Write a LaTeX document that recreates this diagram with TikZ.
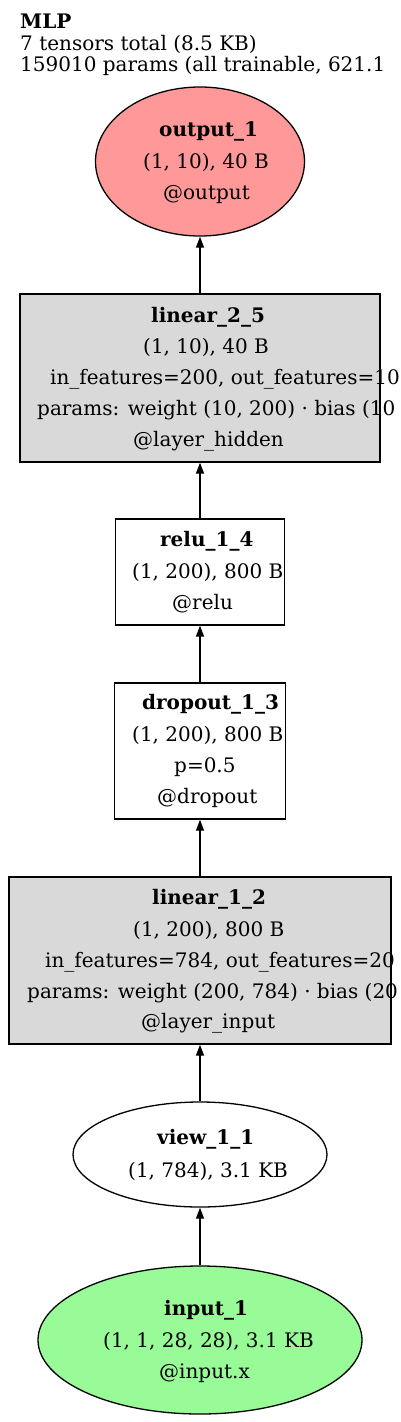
\documentclass[tikz,border=0pt]{standalone}
\usepackage{fontspec}
\setmainfont{DejaVu Serif}
\usetikzlibrary{arrows.meta,shapes.geometric}
\definecolor{outputCol}{RGB}{255, 153, 153}
\definecolor{inputCol}{RGB}{152, 251, 152}
\definecolor{layerCol}{RGB}{217, 217, 217}
\definecolor{edgeCol}{RGB}{0, 0, 0}

\begin{document}
\begin{tikzpicture}[
    x=1pt, y=-1pt,
    font=\fontsize{20}{24}\selectfont,
    tensorEllipse/.style={ellipse, draw=edgeCol, line width=1.3pt, inner sep=0pt},
    opBox/.style={rectangle, draw=edgeCol, line width=1.3pt, inner sep=0pt},
    lineText/.style={anchor=base west, inner sep=0pt},
    flowArrow/.style={-{Triangle[length=11pt, width=8pt]}, line width=1.3pt, draw=edgeCol}
]

    % ---------------- page ----------------
    \clip (0,0) rectangle (400,1422);
    \fill[white] (0,0) rectangle (400,1422);

    % ---------------- title ----------------
    \node[lineText, font=\fontsize{20}{24}\selectfont\bfseries] (title) at (20,28) {MLP};
    \node[lineText] (tensorCount) at (20,50) {7 tensors total (8.5 KB)};
    \node[lineText] (paramCount) at (20,71) {159010 params (all trainable, 621.1};

    % ---------------- shapes (top to bottom) ----------------
    \node[tensorEllipse, fill=outputCol, minimum width=209pt, minimum height=149pt]
        (output) at (200,161.5) {};
    \node[opBox, fill=layerCol, minimum width=360pt, minimum height=168pt]
        (linear2) at (200,378) {};
    \node[opBox, fill=white, minimum width=169pt, minimum height=106pt]
        (relu) at (200,572) {};
    \node[opBox, fill=white, minimum width=171pt, minimum height=136pt]
        (dropout) at (200,751) {};
    \node[opBox, fill=layerCol, minimum width=382pt, minimum height=167pt]
        (linear1) at (200,960.5) {};
    \node[tensorEllipse, fill=white, minimum width=254pt, minimum height=105pt]
        (view) at (200,1154.5) {};
    \node[tensorEllipse, fill=inputCol, minimum width=324pt, minimum height=148pt]
        (input) at (200,1340) {};

    % ---------------- output_1 ----------------
    \node[lineText, font=\fontsize{20}{24}\selectfont\bfseries] (output-name) at (159,136) {output\_1};
    \foreach \x/\y/\t [count=\i] in {143/168/{(1, 10), 40 B}, 163/199/{@output}}
        \node[lineText] (output-\i) at (\x,\y) {\t};

    % ---------------- linear_2_5 ----------------
    \node[lineText, font=\fontsize{20}{24}\selectfont\bfseries] (linear2-name) at (151,322) {linear\_2\_5};
    \foreach \x/\y/\t [count=\i] in {
        143/353/{(1, 10), 40 B},
        50/384/{in\_features=200, out\_features=10},
        37/415/{params: weight (10, 200) · bias (10},
        133/446/{@layer\_hidden}}
        \node[lineText] (linear2-\i) at (\x,\y) {\t};

    % ---------------- relu_1_4 ----------------
    \node[lineText, font=\fontsize{20}{24}\selectfont\bfseries] (relu-name) at (160,546) {relu\_1\_4};
    \foreach \x/\y/\t [count=\i] in {132/578/{(1, 200), 800 B}, 172/609/{@relu}}
        \node[lineText] (relu-\i) at (\x,\y) {\t};

    % ---------------- dropout_1_3 ----------------
    \node[lineText, font=\fontsize{20}{24}\selectfont\bfseries] (dropout-name) at (142,709) {dropout\_1\_3};
    \foreach \x/\y/\t [count=\i] in {
        132/741/{(1, 200), 800 B},
        174/772/{p=0.5},
        157/803/{@dropout}}
        \node[lineText] (dropout-\i) at (\x,\y) {\t};

    % ---------------- linear_1_2 ----------------
    \node[lineText, font=\fontsize{20}{24}\selectfont\bfseries] (linear1-name) at (152,904) {linear\_1\_2};
    \foreach \x/\y/\t [count=\i] in {
        133/936/{(1, 200), 800 B},
        45/967/{in\_features=784, out\_features=20},
        27/998/{params: weight (200, 784) · bias (20},
        141/1028/{@layer\_input}}
        \node[lineText] (linear1-\i) at (\x,\y) {\t};

    % ---------------- view_1_1 ----------------
    \node[lineText, font=\fontsize{20}{24}\selectfont\bfseries] (view-name) at (157,1144) {view\_1\_1};
    \node[lineText] (view-1) at (128,1177) {(1, 784), 3.1 KB};

    % ---------------- input_1 ----------------
    \node[lineText, font=\fontsize{20}{24}\selectfont\bfseries] (input-name) at (164,1315) {input\_1};
    \foreach \x/\y/\t [count=\i] in {103/1347/{(1, 1, 28, 28), 3.1 KB}, 159/1378/{@input.x}}
        \node[lineText] (input-\i) at (\x,\y) {\t};

    % ---------------- data flow (bottom to top) ----------------
    \draw[flowArrow] (input) -- (view);
    \draw[flowArrow] (view) -- (linear1);
    \draw[flowArrow] (linear1) -- (dropout);
    \draw[flowArrow] (dropout) -- (relu);
    \draw[flowArrow] (relu) -- (linear2);
    \draw[flowArrow] (linear2) -- (output);

\end{tikzpicture}
\end{document}
